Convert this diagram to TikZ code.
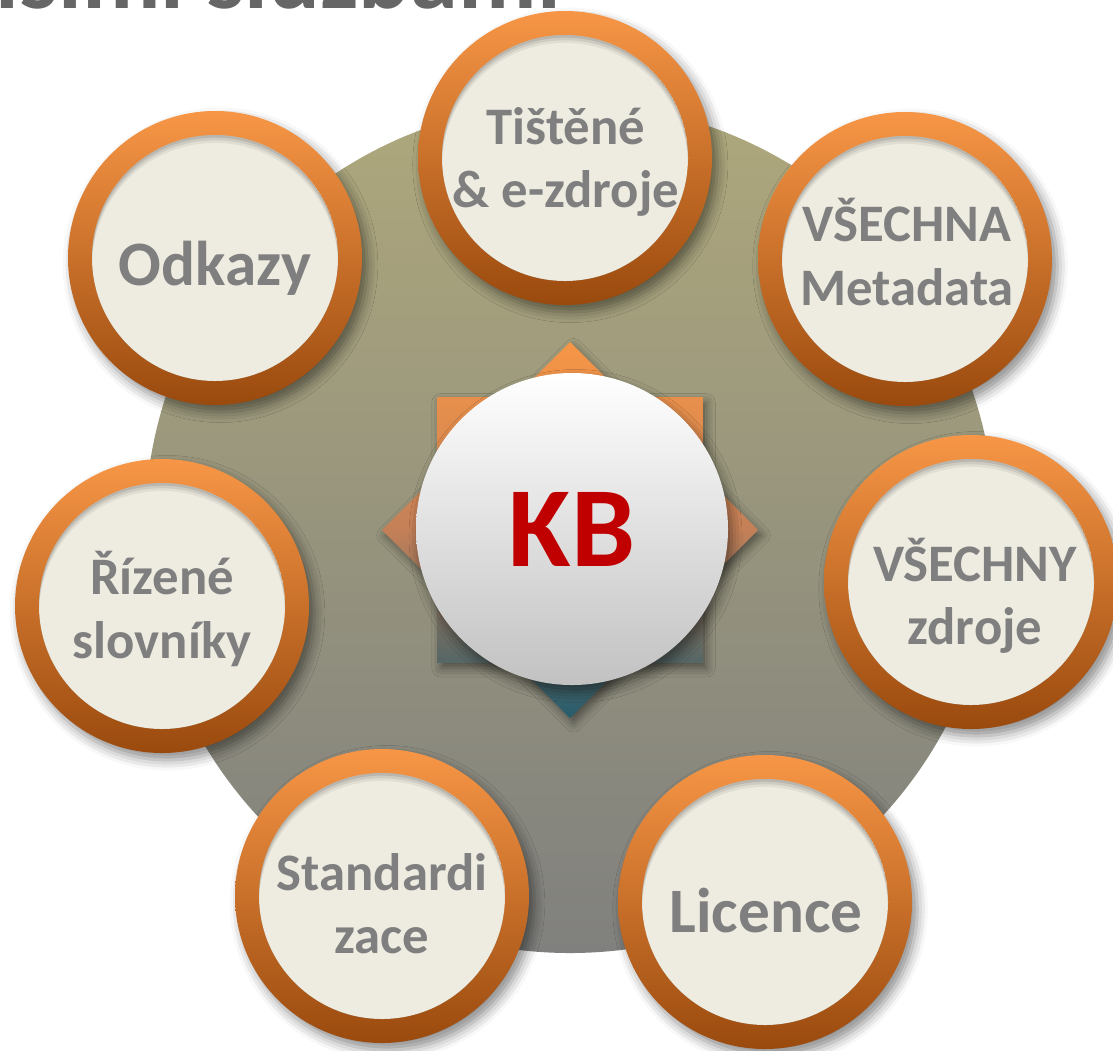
\documentclass[tikz,border=0pt]{standalone}
\usepackage{fontspec}
\setmainfont{Carlito}
\usetikzlibrary{shapes.geometric, shadows.blur}

\definecolor{discTop}{RGB}{174,168,124}
\definecolor{discBot}{RGB}{128,128,126}
\definecolor{ringTop}{RGB}{247,150,70}
\definecolor{ringBot}{RGB}{154,74,14}
\definecolor{cream}{RGB}{238,236,225}
\definecolor{labelgray}{RGB}{127,127,127}
\definecolor{kbred}{RGB}{192,0,0}
\definecolor{starMid}{RGB}{196,128,88}
\definecolor{starBot}{RGB}{38,92,108}
\definecolor{titlegray}{RGB}{102,102,102}

\tikzset{
  disc/.style={
    circle,
    inner sep=0,
    minimum size=17cm,
    top color=discTop,
    bottom color=discBot
  },
  sun/.style={
    star,
    star points=8,
    star point ratio=1.3066,
    inner sep=0,
    minimum size=7.52cm,
    top color=ringTop,
    bottom color=starBot,
    middle color=starMid,
    blur shadow={shadow xshift=2pt, shadow yshift=-3pt, shadow blur radius=5pt, shadow opacity=45}
  },
  hub/.style={
    circle,
    inner sep=0,
    minimum size=6.24cm,
    top color=white,
    bottom color=black!24,
    blur shadow={shadow xshift=2pt, shadow yshift=-4pt, shadow blur radius=6pt, shadow opacity=45},
    text=kbred,
    font=\fontsize{65}{65}\selectfont\bfseries
  },
  ring/.style={
    circle,
    inner sep=0,
    minimum size=5.88cm,
    top color=ringTop,
    bottom color=ringBot,
    blur shadow={shadow xshift=3pt, shadow yshift=-4pt, shadow blur radius=6pt, shadow opacity=45},
    path picture={
      \coordinate (c) at (path picture bounding box.center);
      \fill[cream] (c) circle (2.46cm);
      \begin{scope}
        \clip (c) circle (2.46cm);
        \foreach \dd/\op in {1.5pt/0.10, 3pt/0.08, 4.5pt/0.06}
          \fill[black, opacity=\op, even odd rule] (c) circle (2.46cm) ([yshift=-\dd]c) circle (2.46cm);
      \end{scope}
    }
  },
  caption/.style={
    text=labelgray,
    align=center,
    inner sep=0,
    font=\fontsize{30}{36}\selectfont\bfseries
  },
  bigtext/.style={font=\fontsize{36}{40}\selectfont\bfseries},
  title/.style={text=titlegray, anchor=base east, inner sep=0, font=\fontsize{55}{55}\selectfont\bfseries}
}

\begin{document}
\begin{tikzpicture}[x=0.2mm, y=-0.2mm]
\useasboundingbox (0,0) rectangle (1113,1050);
\clip (0,0) rectangle (1113,1050);

\node[title] (heading) at (561,8) {dalšími službami};

% background disc and centre
\node[disc] (disc) at (570,528) {};
\node[sun] (sun) at (570,530) {};
\node[hub] (kb) at (572,529) {KB};

% outer circles
\node[ring] (tistene) at (565,158) {};
\node[ring] (metadata) at (905,259) {};
\node[ring] (zdroje) at (971,582) {};
\node[ring] (licence) at (765,902) {};
\node[ring] (standard) at (382,896) {};
\node[ring] (slovniky) at (162,606) {};
\node[ring] (odkazy) at (215,258) {};

% captions
\node[caption] (tisteneText) at (566,162) {Tištěné\\\& e-zdroje};
\node[caption] (metadataText) at (907,252) {VŠECHNA\\Metadata};
\node[caption] (zdrojeText) at (975,596) {VŠECHNY\\zdroje};
\node[caption, bigtext] (licenceText) at (766,911) {Licence};
\node[caption] (standardText) at (382,904) {Standardi\\zace};
\node[caption] (slovnikyText) at (162,609) {Řízené\\slovníky};
\node[caption, bigtext] (odkazyText) at (215,268) {Odkazy};
\end{tikzpicture}
\end{document}
